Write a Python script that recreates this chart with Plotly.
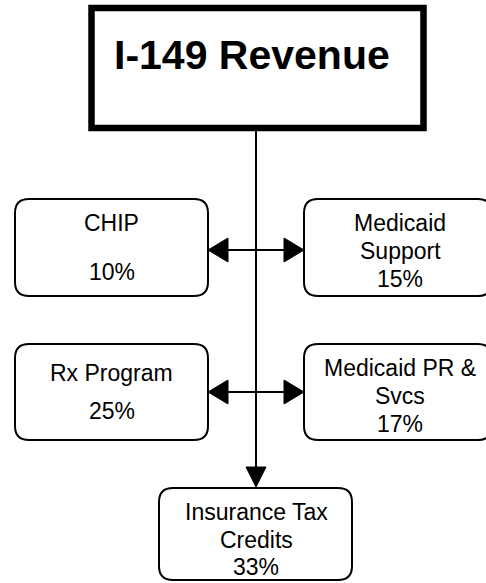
import plotly.graph_objects as go

# Chart content
title = "I-149 Revenue"
programs = ["CHIP", "Medicaid Support", "Rx Program", "Medicaid PR & Svcs", "Insurance Tax Credits"]
label_lines = [["CHIP"], ["Medicaid", "Support"], ["Rx Program"], ["Medicaid PR &", "Svcs"], ["Insurance Tax", "Credits"]]
shares = [10, 15, 25, 17, 33]

# Diagram geometry (pixel coords, y down)
W, H = 486, 583
boxes = [
    (15, 199, 208, 296),
    (304, 199, 492, 296),
    (15, 344, 208, 440),
    (304, 344, 492, 440),
    (159, 488, 352, 580),
]
text_x = [111.5, 400, 111.5, 400, 256]
text_y = [
    [223, 272],
    [223, 251, 279],
    [373, 411],
    [368, 396, 424],
    [512, 540, 567],
]
trunk_x = 256
row_y = [250, 392]
FONT = "Arial, Liberation Sans, sans-serif"


def rounded_box(x0, y0, x1, y1, r=14):
    return (f"M {x0 + r},{y0} L {x1 - r},{y0} Q {x1},{y0} {x1},{y0 + r} "
            f"L {x1},{y1 - r} Q {x1},{y1} {x1 - r},{y1} "
            f"L {x0 + r},{y1} Q {x0},{y1} {x0},{y1 - r} "
            f"L {x0},{y0 + r} Q {x0},{y0} {x0 + r},{y0} Z")


def triangle(tip_x, tip_y, dx, dy, half):
    # dx/dy point from base to tip
    bx, by = tip_x - dx, tip_y - dy
    if dx:
        pts = [(tip_x, tip_y), (bx, by - half), (bx, by + half)]
    else:
        pts = [(tip_x, tip_y), (bx - half, by), (bx + half, by)]
    return "M " + " L ".join(f"{x},{y}" for x, y in pts) + " Z"


shapes = []
line_style = dict(color="black", width=2)

# header box
shapes.append(dict(type="rect", x0=91.5, y0=8, x1=423.5, y1=128,
                   line=dict(color="black", width=6.5), fillcolor="white"))

# trunk line and arrow down
shapes.append(dict(type="line", x0=trunk_x, y0=131, x1=trunk_x, y1=468, line=line_style))
shapes.append(dict(type="path", path=triangle(trunk_x, 487, 0, 20, 10),
                   fillcolor="black", line=dict(color="black", width=1)))

# horizontal double arrows
for y in row_y:
    shapes.append(dict(type="line", x0=228, y0=y, x1=284, y1=y, line=line_style))
    shapes.append(dict(type="path", path=triangle(208, y, -20, 0, 12),
                       fillcolor="black", line=dict(color="black", width=1)))
    shapes.append(dict(type="path", path=triangle(304, y, 20, 0, 12),
                       fillcolor="black", line=dict(color="black", width=1)))

# program boxes
for b in boxes:
    shapes.append(dict(type="path", path=rounded_box(*b), fillcolor="white", line=line_style))

annotations = [dict(x=252, y=55, text=f"<b>{title}</b>", showarrow=False,
                    xanchor="center", yanchor="middle",
                    font=dict(family=FONT, size=41, color="black"))]

for lines, share, tx, ys in zip(label_lines, shares, text_x, text_y):
    for txt, ty in zip(lines + [f"{share}%"], ys):
        annotations.append(dict(x=tx, y=ty, text=txt, showarrow=False,
                                xanchor="center", yanchor="middle",
                                font=dict(family=FONT, size=23, color="black")))

fig = go.Figure()
fig.update_layout(
    width=W, height=H,
    margin=dict(l=0, r=0, t=0, b=0),
    paper_bgcolor="white", plot_bgcolor="white",
    xaxis=dict(range=[0, W], visible=False, fixedrange=True),
    yaxis=dict(range=[H, 0], visible=False, fixedrange=True),
    shapes=shapes,
    annotations=annotations,
    showlegend=False,
)

# drop the default page margin so the figure sits at the window's top-left
fig.write_html("out.html", config=dict(displayModeBar=False),
               post_script="document.body.style.margin='0';document.body.style.overflow='hidden';")
